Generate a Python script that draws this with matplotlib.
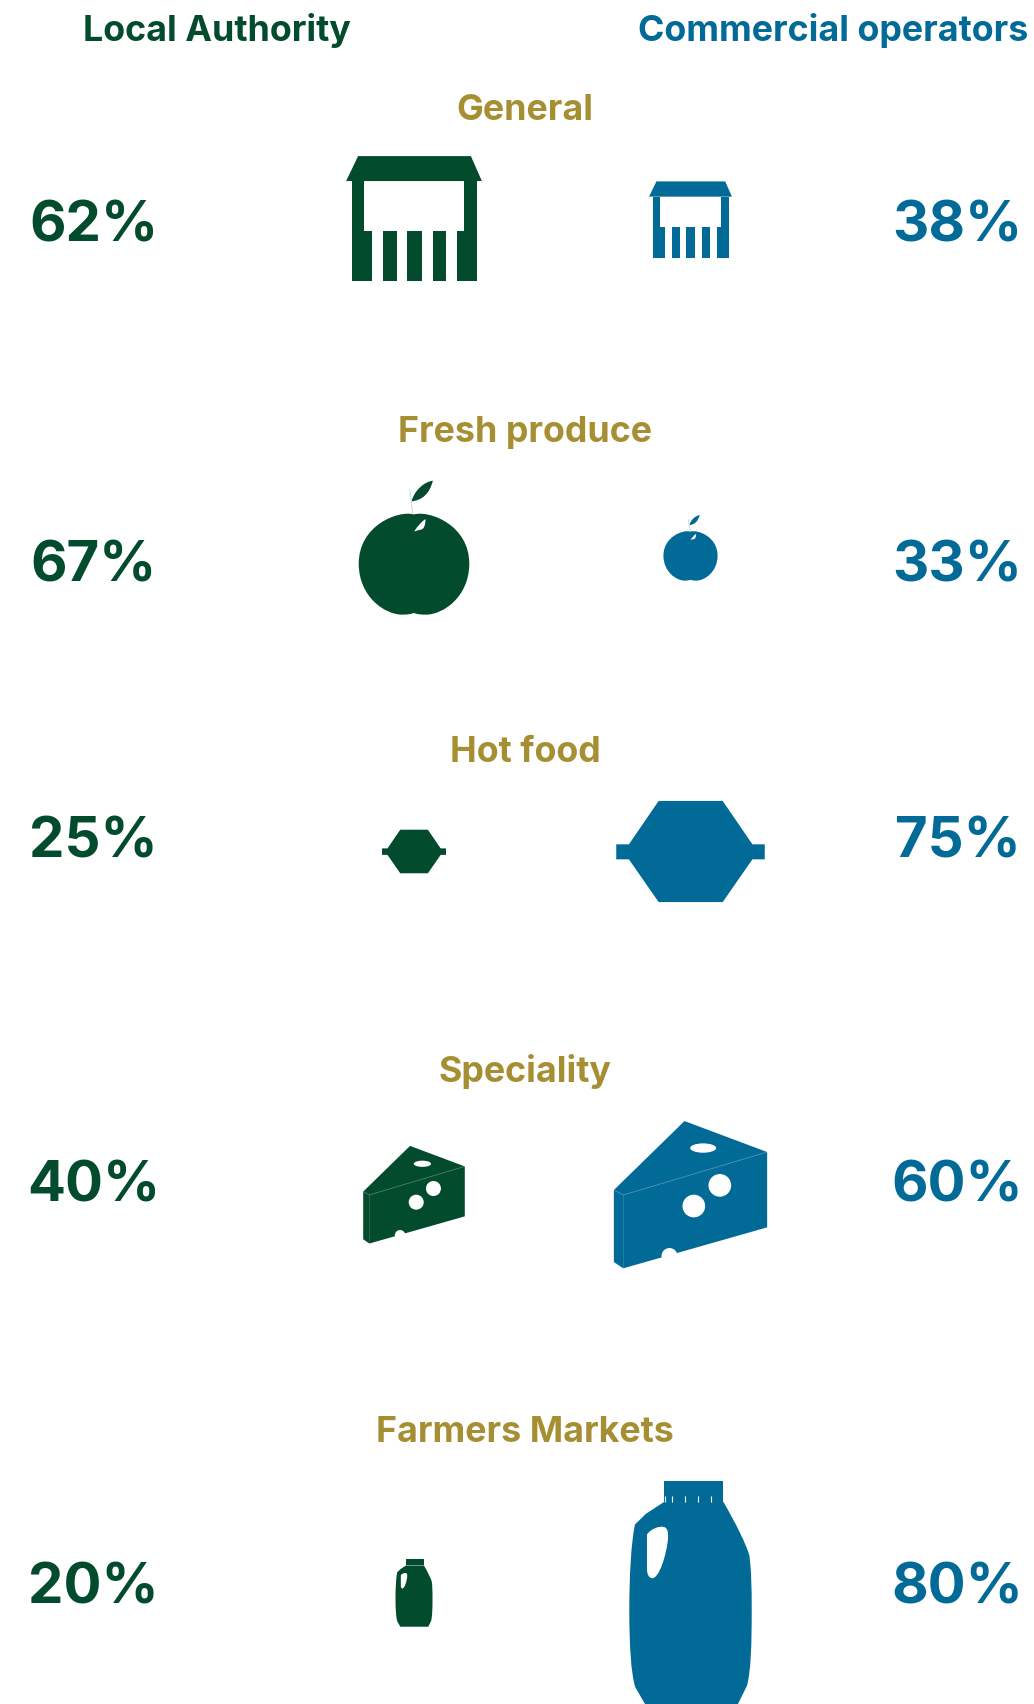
import matplotlib
matplotlib.use('Agg')
import matplotlib.pyplot as plt
from matplotlib.path import Path
from matplotlib.patches import PathPatch, Ellipse
from matplotlib.transforms import Affine2D

plt.rcParams['font.family'] = ['Inter', 'Liberation Sans', 'DejaVu Sans']

# data
categories = ['General', 'Fresh produce', 'Hot food', 'Speciality', 'Farmers Markets']
local_authority = [62, 67, 25, 40, 20]
commercial = [38, 33, 75, 60, 80]
group_names = ['Local Authority', 'Commercial operators']

# layout (reference pixels)
GREEN = '#024B2D'
BLUE = '#026A96'
GOLD = '#A68F33'
left_x = 414
right_x = 690.5
cat_base = [120.5, 442, 762, 1082, 1442]
pct_base = [242, 582, 858, 1202, 1603]
icon_y_left = [218.5, 548, 851.5, 1194.7, 1593]
icon_y_right = [219.5, 548, 851.5, 1194.7, 1593]
# icon width per percentage point, each side
k_left = [2.19, 1.65, 2.56, 2.54, 1.85]
k_right = [2.18, 1.64, 1.98, 2.555, 1.53]


def poly(pts, cx, cy, w):
    return [((x - cx) / w, (y - cy) / w) for x, y in pts]


def draw_path(ax, verts, codes, tr, color, **kw):
    p = PathPatch(Path(verts, codes), facecolor=color, edgecolor='none', transform=tr, **kw)
    ax.add_patch(p)


def draw_polygon(ax, pts, tr, color):
    verts = pts + [pts[0]]
    codes = [Path.MOVETO] + [Path.LINETO] * (len(pts) - 1) + [Path.CLOSEPOLY]
    draw_path(ax, verts, codes, tr, color)


def curves(start, segs):
    # start point + list of (ctrl, ctrl, end) beziers
    verts = [start]
    codes = [Path.MOVETO]
    for a, b, c in segs:
        verts += [a, b, c]
        codes += [Path.CURVE4] * 3
    return verts, codes


def market(ax, tr, color):
    cx, cy, w = 414, 218.5, 136
    draw_polygon(ax, poly([(358, 156), (471, 156), (482, 181), (346, 181)], cx, cy, w), tr, color)
    for x0, x1, y0, y1 in [(352, 364, 181, 232), (464, 477, 181, 232), (352, 372, 231, 281),
                           (383, 397, 231, 281), (407, 422, 231, 281), (433, 446, 231, 281),
                           (457, 477, 231, 281)]:
        draw_polygon(ax, poly([(x0, y0), (x1, y0), (x1, y1), (x0, y1)], cx, cy, w), tr, color)


def apple(ax, tr, color):
    cx, cy, w = 283.5, 263.5, 331
    n = lambda p: ((p[0] - cx) / w, (p[1] - cy) / w)
    # stem
    ax.plot([n((271, 88))[0], n((280, 162))[0]], [n((271, 88))[1], n((280, 162))[1]],
            color='#d5e0dc', lw=0.9, transform=tr, solid_capstyle='butt')
    v, c = curves((283, 163), [((330, 150), (449, 195), (449, 310)),
                               ((449, 410), (370, 463), (320, 463)),
                               ((305, 463), (292, 462), (283, 458)),
                               ((274, 462), (261, 463), (247, 463)),
                               ((197, 463), (118, 410), (118, 310)),
                               ((118, 195), (237, 150), (283, 163))])
    draw_path(ax, [n(p) for p in v], c, tr, color)
    v, c = curves((340, 62), [((330, 100), (310, 120), (276, 124)),
                              ((285, 90), (315, 65), (340, 62))])
    draw_path(ax, [n(p) for p in v], c, tr, color)
    v, c = curves((284, 214), [((295, 197), (305, 185), (318, 177)),
                               ((318, 195), (313, 206), (306, 208)),
                               ((298, 210), (290, 212), (284, 214))])
    draw_path(ax, [n(p) for p in v], c, tr, 'white')


def hot_food(ax, tr, color):
    cx, cy, w = 992.5, 213.5, 445
    pts = [(897, 62), (1089, 62), (1178, 192), (1215, 192), (1215, 237), (1178, 237),
           (1089, 365), (897, 365), (808, 237), (770, 237), (770, 192), (808, 192)]
    draw_polygon(ax, poly(pts, cx, cy, w), tr, color)


def cheese(ax, tr, color):
    cx, cy, w = 1053, 284, 460
    n = lambda p: ((p[0] - cx) / w, (p[1] - cy) / w)
    pts = [(1035, 63), (1283, 156), (1283, 382), (851, 505), (823, 486), (823, 270)]
    draw_polygon(ax, poly(pts, cx, cy, w), tr, color)
    for (x, y), rx, ry in [((1091, 144), 39, 14), ((1141, 256), 34, 34),
                           ((1063, 318), 34, 34), ((990, 468), 24, 24)]:
        ax.add_patch(Ellipse(n((x, y)), 2 * rx / w, 2 * ry / w, facecolor='white',
                             edgecolor='none', transform=tr))
    # faint fold lines
    xs, ys = zip(*[n(p) for p in [(823, 270), (851, 285), (1283, 156)]])
    ax.plot(xs, ys, color='white', alpha=0.35, lw=0.5, transform=tr)
    xs, ys = zip(*[n(p) for p in [(851, 285), (851, 505)]])
    ax.plot(xs, ys, color='white', alpha=0.2, lw=0.5, transform=tr)


def jug(ax, tr, color):
    cx, cy, w = 963.5, 397.5, 367
    n = lambda p: ((p[0] - cx) / w, (p[1] - cy) / w)
    draw_polygon(ax, poly([(885, 63), (1062, 63), (1062, 124), (885, 124)], cx, cy, w), tr, color)
    v = [(885, 124), (830, 160), (797, 192)]
    c = [Path.MOVETO, Path.LINETO, Path.LINETO]
    bv, bc = curves((797, 192), [((785, 250), (780, 350), (780, 450)),
                                 ((780, 550), (785, 640), (798, 680))])
    v += bv[1:]
    c += bc[1:]
    v += [(828, 732), (1105, 732), (1133, 675)]
    c += [Path.LINETO] * 3
    bv, bc = curves((1133, 675), [((1145, 630), (1147, 550), (1147, 450)),
                                  ((1147, 380), (1146, 330), (1140, 285)),
                                  ((1130, 250), (1100, 190), (1062, 124))])
    v += bv[1:]
    c += bc[1:]
    v += [(885, 124)]
    c += [Path.CLOSEPOLY]
    draw_path(ax, [n(p) for p in v], c, tr, color)
    v, c = curves((833, 222), [((845, 205), (870, 195), (885, 200)),
                               ((895, 203), (897, 215), (896, 235)),
                               ((892, 280), (870, 355), (848, 353)),
                               ((838, 352), (833, 340), (833, 325)),
                               ((833, 290), (833, 255), (833, 222))])
    draw_path(ax, [n(p) for p in v], c, tr, 'white')
    # cap ticks only show on the big one
    if color == BLUE:
        for x in [888, 907, 946, 985, 1024]:
            xs, ys = zip(*[n((x, 108)), n((x, 124))])
            ax.plot(xs, ys, color='white', lw=0.8, transform=tr, solid_capstyle='butt')


icons = [market, apple, hot_food, cheese, jug]

fig = plt.figure(figsize=(10.34, 17.04), dpi=100)
ax = fig.add_axes([0, 0, 1, 1])
ax.set_xlim(0, 1034)
ax.set_ylim(1704, 0)
ax.axis('off')

ax.text(83, 41, group_names[0], color=GREEN, fontsize=25.8, fontweight='bold', ha='left', va='baseline')
ax.text(1028, 41, group_names[1], color=BLUE, fontsize=25.8, fontweight='bold', ha='right', va='baseline')

for i, cat in enumerate(categories):
    ax.text(525, cat_base[i], cat, color=GOLD, fontsize=25.8, fontweight='bold', ha='center', va='baseline')
    ax.text(93.5, pct_base[i], f'{local_authority[i]}%', color=GREEN, fontsize=40.5, fontweight='bold',
            ha='center', va='baseline')
    ax.text(957.5, pct_base[i], f'{commercial[i]}%', color=BLUE, fontsize=40.5, fontweight='bold',
            ha='center', va='baseline')
    wl = local_authority[i] * k_left[i]
    wr = commercial[i] * k_right[i]
    icons[i](ax, Affine2D().scale(wl).translate(left_x, icon_y_left[i]) + ax.transData, GREEN)
    icons[i](ax, Affine2D().scale(wr).translate(right_x, icon_y_right[i]) + ax.transData, BLUE)

fig.savefig('out.png', dpi=100)
